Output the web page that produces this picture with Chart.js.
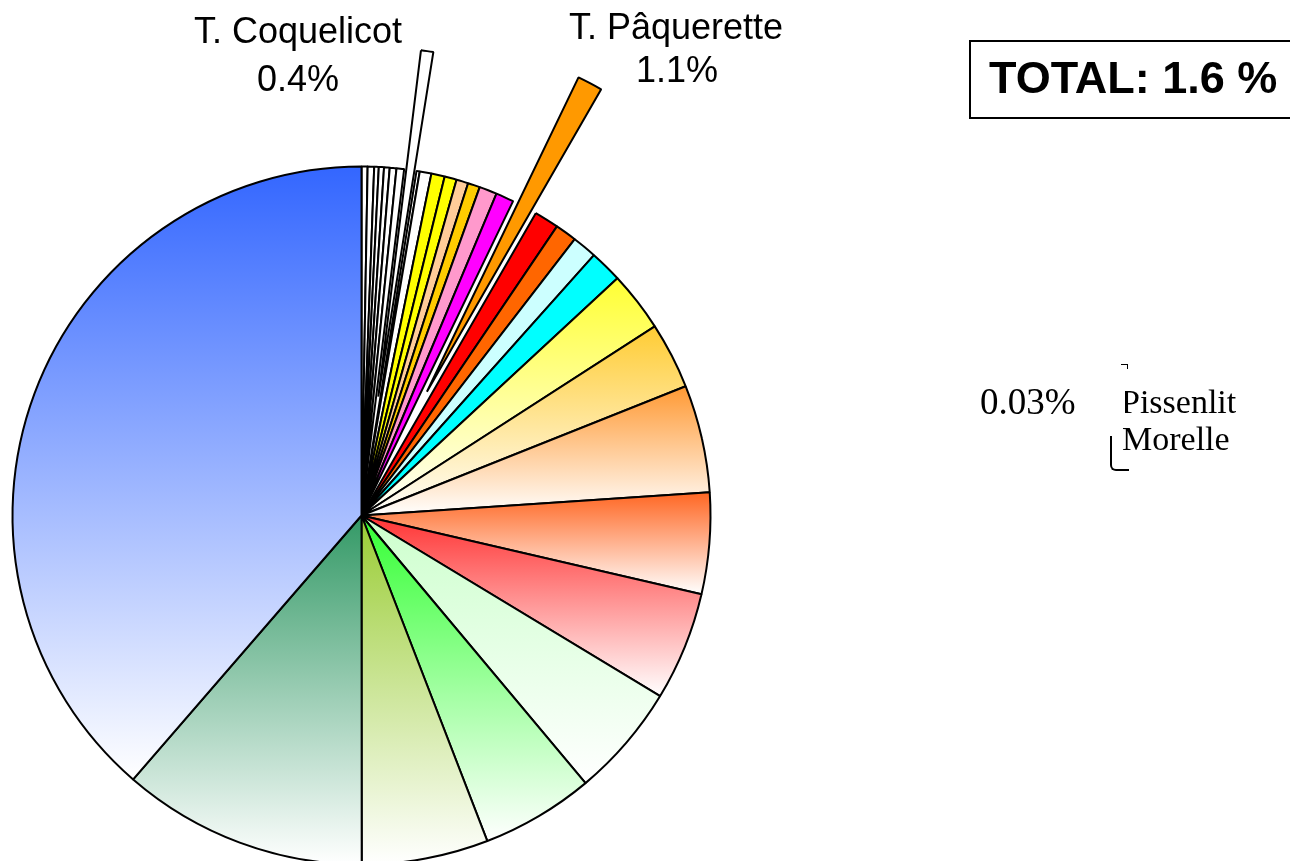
<!DOCTYPE html>
<html>
<head>
<meta charset="utf-8">
<title>Pie</title>
<script src="https://cdn.jsdelivr.net/npm/chart.js@4.4.1/dist/chart.umd.min.js"></script>
<style>
  html, body { margin: 0; padding: 0; background: #fff; overflow: hidden; }
  #wrap { position: relative; width: 1290px; height: 861px; overflow: hidden; }
  #pieChart { position: absolute; left: 0; top: 0; }
  .txt { position: absolute; white-space: nowrap; color: #000; }
  .sans { font-family: "Liberation Sans", Arial, sans-serif; }
  .serif { font-family: "Liberation Serif", "Times New Roman", serif; }
  .mid { width: 400px; text-align: center; }
  #totalBox { position: absolute; left: 969px; top: 40px; width: 400px; height: 75px; border: 2px solid #000; }
  #bracket { position: absolute; left: 1110px; top: 436px; width: 17px; height: 33px; border-left: 2px solid #000; border-bottom: 2px solid #000; border-bottom-left-radius: 6px; }
  #tick { position: absolute; left: 1121px; top: 364px; width: 6px; height: 4px; border-top: 1px solid #000; border-right: 1px solid #000; }
</style>
</head>
<body>
<div id="wrap">
  <canvas id="pieChart" width="1290" height="861"></canvas>

  <div class="txt sans mid" style="left:98px; top:13px; font-size:36px; line-height:36px;">T. Coquelicot</div>
  <div class="txt sans mid" style="left:98px; top:61px; font-size:36px; line-height:36px;">0.4%</div>
  <div class="txt sans mid" style="left:476px; top:9px; font-size:36px; line-height:36px;">T. Pâquerette</div>
  <div class="txt sans mid" style="left:477px; top:52px; font-size:36px; line-height:36px;">1.1%</div>

  <div id="totalBox"></div>
  <div class="txt sans" style="left:989px; top:55px; font-size:45px; line-height:45px; font-weight:bold;">TOTAL: 1.6 %</div>

  <div class="txt serif" style="left:980px; top:383px; font-size:37px; line-height:37px;">0.03%</div>
  <div class="txt serif" style="left:1121px; top:385px; font-size:34px; line-height:34px; clip-path: inset(0 0 0 4px);">Pissenlit</div>
  <div class="txt serif" style="left:1122px; top:422px; font-size:34px; line-height:34px;">Morelle</div>
  <div id="tick"></div>
  <div id="bracket"></div>
</div>

<script>
// slices, clockwise from 12 o'clock
const sliceLabels = [
    'Esp. 1', 'Esp. 2', 'Esp. 3', 'Esp. 4', 'Esp. 5', 'Esp. 6', 'Esp. 7',
    'T. Coquelicot', 'Esp. 9', 'Esp. 10',
    'Esp. 11', 'Esp. 12', 'Esp. 13', 'Esp. 14', 'Esp. 15', 'Esp. 16',
    'T. Pâquerette',
    'Esp. 18', 'Esp. 19', 'Esp. 20', 'Esp. 21',
    'Esp. 22', 'Esp. 23', 'Esp. 24', 'Esp. 25', 'Esp. 26',
    'Esp. 27', 'Esp. 28', 'Esp. 29', 'Esp. 30', 'Esp. 31'
];

const sliceValues = [
    0.28, 0.30, 0.21, 0.24, 0.26, 0.31, 0.35,
    0.57, 0.15, 0.54,
    0.62, 0.56, 0.55, 0.56, 0.82, 0.83,
    1.17,
    1.14, 1.00, 1.14, 1.50,
    2.78, 3.08, 4.97, 4.69, 5.03,
    5.25, 5.22, 5.86, 11.36, 38.64
];

// styling
const sliceColors = [
    '#FFFFFF', '#FFFFFF', '#FFFFFF', '#FFFFFF', '#FFFFFF', '#FFFFFF', '#FFFFFF',
    '#FFFFFF', '#FFFFFF', '#FFFFFF',
    '#FFFF00', '#FFFF00', '#FFCC99', '#FFCC00', '#FF99CC', '#FF00FF',
    '#FF9900',
    '#FF0000', '#FF6600', '#CCFFFF', '#00FFFF',
    '#FFFF33', '#FFCC33', '#FF9933', '#FF6622', '#FF3333',
    '#CCFFCC', '#33FF33', '#99CC33', '#339966', '#3366FF'
];

const fadeToWhite = [
    false, false, false, false, false, false, false,
    false, false, false,
    false, false, false, false, false, false,
    false,
    false, false, false, false,
    true, true, true, true, true,
    true, true, true, true, true
];

const explodedSlices = {
    'T. Coquelicot': 120,
    'T. Pâquerette': 140
};

const pieRadius = 349;

// vertical fade from slice colour (top) to white (bottom of the slice)
function sliceFill(c) {
    const i = c.dataIndex;
    const base = sliceColors[i];
    const area = c.chart.chartArea;
    if (!fadeToWhite[i] || !area) return base;

    const cy = (area.top + area.bottom) / 2;
    const total = sliceValues.reduce((a, b) => a + b, 0);
    let before = 0;
    for (let k = 0; k < i; k++) before += sliceValues[k];
    const a0 = before / total * 360;
    const a1 = (before + sliceValues[i]) / total * 360;
    const yAt = a => cy - pieRadius * Math.cos(a * Math.PI / 180);

    let top = Math.min(cy, yAt(a0), yAt(a1));
    let bottom = Math.max(cy, yAt(a0), yAt(a1));
    if (a0 <= 180 && a1 >= 180) bottom = cy + pieRadius;
    if (a0 <= 0 || a1 >= 359.999) top = cy - pieRadius;

    const g = c.chart.ctx.createLinearGradient(0, top, 0, bottom);
    g.addColorStop(0, base);
    g.addColorStop(1, '#FFFFFF');
    return g;
}

// pulled-out slices: move the whole wedge outwards instead of stretching it
const arcDraw = Chart.ArcElement.prototype.draw;
Chart.ArcElement.prototype.draw = function (ctx) {
    const d = this.$explode;
    if (!d) {
        arcDraw.call(this, ctx);
        return;
    }
    const mid = (this.startAngle + this.endAngle) / 2;
    ctx.save();
    ctx.translate(Math.cos(mid) * d, Math.sin(mid) * d);
    arcDraw.call(this, ctx);
    ctx.restore();
};

const explodePlugin = {
    id: 'explode',
    afterDatasetUpdate(chart, args) {
        args.meta.data.forEach((arc, i) => {
            arc.$explode = explodedSlices[chart.data.labels[i]] || 0;
        });
    }
};

const pieChart = new Chart(document.getElementById('pieChart'), {
    type: 'pie',
    data: {
        labels: sliceLabels,
        datasets: [{
            data: sliceValues,
            backgroundColor: sliceFill,
            borderColor: '#000000',
            borderWidth: 2,
            radius: pieRadius,
            clip: false
        }]
    },
    options: {
        responsive: false,
        animation: false,
        events: [],
        devicePixelRatio: 1,
        layout: {
            padding: { left: 0, top: 170, right: 567, bottom: 0 }
        },
        plugins: {
            legend: { display: false },
            tooltip: { enabled: false }
        }
    },
    plugins: [explodePlugin]
});
</script>
</body>
</html>
